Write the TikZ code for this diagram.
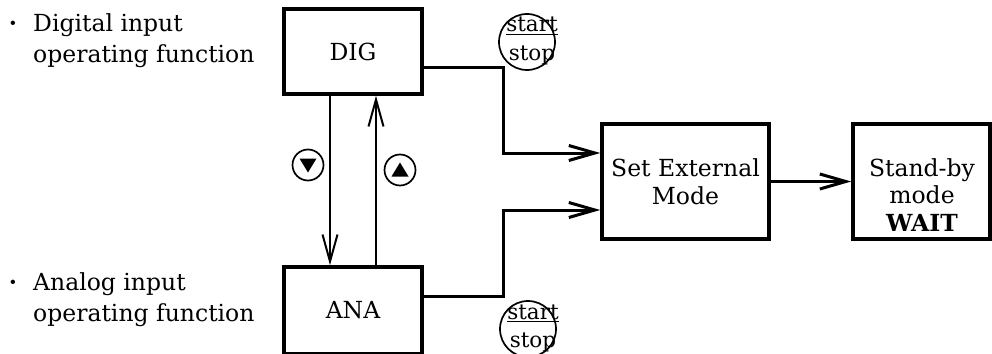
\documentclass[tikz,border=0pt]{standalone}
\usepackage{fontspec}
\setmainfont{DejaVu Serif}
\usetikzlibrary{arrows.meta,calc}
\newcommand\mainsz{\fontsize{23.5}{28}\selectfont}
\newcommand\sbsz{\fontsize{23.5}{27.5}\selectfont}
\newcommand\sssz{\fontsize{21.5}{26}\selectfont}
\begin{document}
\begin{tikzpicture}[x=1pt,y=-1pt,
  box/.style={draw, line width=3.5pt, inner sep=0pt, font=\mainsz, align=center},
  conn/.style={line width=3pt, -{Straight Barb[length=26pt,width=15pt]}},
  thinarr/.style={line width=2pt, -{Straight Barb[length=27pt,width=15pt]}},
  ss/.style={draw, circle, line width=1.7pt, minimum size=56pt, inner sep=0pt},
  sstext/.style={font=\sssz, anchor=base, inner sep=0pt},
  lbl/.style={font=\mainsz, anchor=base west, inner sep=0pt},
  bul/.style={font=\mainsz\bfseries, anchor=base, inner sep=0pt},
  sym/.style={draw, circle, line width=1.7pt, minimum size=31pt, inner sep=0pt}]
\useasboundingbox (0,0) rectangle (992,353);

% left labels
\node[bul] (b1) at (13,32) {\textperiodcentered};
\node[lbl] (t1a) at (33,32) {Digital input};
\node[lbl] (t1b) at (33,63) {operating function};
\node[bul] (b2) at (13,290) {\textperiodcentered};
\node[lbl] (t2a) at (33,290) {Analog input};
\node[lbl] (t2b) at (33,321) {operating function};

% boxes
\node[box, minimum width=138pt, minimum height=85pt] (dig) at (353,51.5) {DIG};
\node[box, minimum width=138pt, minimum height=87pt] (ana) at (353,310.5) {ANA};
\node[box, minimum width=167pt, minimum height=115pt] (set) at (685.5,181.5) {Set External\\Mode};
\node[box, minimum width=137pt, minimum height=115pt] (sb) at (921.5,181.5) {};
\node[font=\sbsz, align=center, inner sep=0pt] (sbt) at (922,195) {Stand-by\\mode\\\textbf{WAIT}};

% start/stop marks
\node[ss] (c1) at (527,42) {};
\node[sstext] (s1a) at (532,32) {\underline{start}};
\node[sstext] (s1b) at (532,60) {stop};
\node[ss] (c2) at (528,329) {};
\node[sstext] (s2a) at (533,319) {\underline{start}};
\node[sstext] (s2b) at (533,347) {stop};

% connector corners
\coordinate (k1) at (503,67);
\coordinate (k2) at (503,153);
\coordinate (k3) at (503,296);
\coordinate (k4) at (503,210);
\draw[conn] (dig.east |- k1) -- (k1) -- (k2) -- (set.west |- k2);
\draw[conn] (ana.east |- k3) -- (k3) -- (k4) -- (set.west |- k4);
\draw[conn] (set.east) -- (sb.west);

% DIG <-> ANA
\coordinate (dx) at (330,0);
\coordinate (ux) at (376,0);
\draw[thinarr] (dig.south -| dx) -- (ana.north -| dx);
\draw[thinarr] (ana.north -| ux) -- (dig.south -| ux);

% key symbols
\node[sym] (dn) at (308,165) {};
\fill ($(dn.center)+(-8.5,-6.5)$) -- ($(dn.center)+(8.5,-6.5)$) -- ($(dn.center)+(0,7.5)$) -- cycle;
\node[sym] (up) at (400,170) {};
\fill ($(up.center)+(-8.5,6.5)$) -- ($(up.center)+(8.5,6.5)$) -- ($(up.center)+(0,-7.5)$) -- cycle;
\end{tikzpicture}
\end{document}
